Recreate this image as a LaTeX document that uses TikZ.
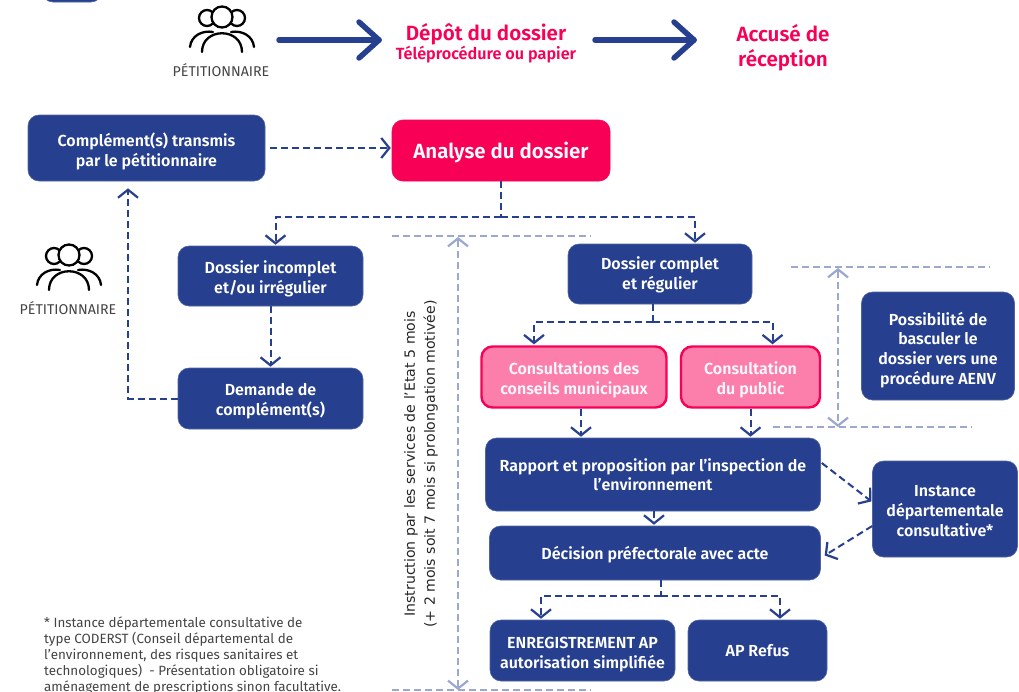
\documentclass[tikz,border=0pt]{standalone}
\usepackage{fontspec}
\setmainfont{Fira Sans}
\newfontfamily\semib{Fira Sans SemiBold}
\newfontfamily\rotfont{DejaVu Sans}
\usetikzlibrary{arrows.meta,calc}
\definecolor{navy}{HTML}{263F8E}
\definecolor{crimson}{HTML}{F70056}
\definecolor{rosefill}{HTML}{FC7FAB}
\definecolor{lav}{HTML}{9CA8CF}
\definecolor{greytxt}{HTML}{444444}
\newcommand{\lo}[1]{\rule{0pt}{#1pt}}
\tikzset{
  x=1pt,y=-1pt,
  box/.style={rectangle,rounded corners=11pt,fill=navy,draw=navy!80!white,line width=.6pt,text=white,align=center,inner sep=0pt,font=\semib\fontsize{16}{19.7}\selectfont},
  hot/.style={box,fill=crimson,draw=crimson,font=\semib\fontsize{20.5}{24}\selectfont},
  rose/.style={box,fill=rosefill,draw=crimson,line width=2.4pt,text=white!95!rosefill},
  reda/.style={text=crimson,align=center,inner sep=0pt,font=\semib\fontsize{20.6}{25}\selectfont},
  redb/.style={text=crimson,align=center,inner sep=0pt,font=\semib\fontsize{16.2}{18}\selectfont},
  who/.style={text=greytxt,inner sep=0pt,font=\fontsize{14.2}{16}\selectfont},
  conn/.style={draw=navy,line width=2pt,dash pattern=on 7pt off 4pt},
  tip/.style={conn,-{Straight Barb[length=8pt,width=20pt,line width=2.2pt]},shorten >=1pt},
  span/.style={draw=lav,line width=2pt,dash pattern=on 7pt off 4pt},
  spantip/.style={span,{Straight Barb[length=8pt,width=20pt,line width=2.2pt]}-{Straight Barb[length=8pt,width=20pt,line width=2.2pt]}},
  bigarrow/.style={draw=navy,line width=5.5pt,line cap=round,line join=round},
  icon/.style={draw=black,line width=2.3pt,line cap=round,fill=white}
}
\newcommand{\peopleicon}[2]{%
\begin{scope}[shift={(#1,#2)}]
  \draw[icon] (-15,1) circle (8);
  \draw[icon] (15,1) circle (8);
  \draw[icon] (0,0) circle (10.5);
  \draw[icon,fill=none] (-32,30) .. controls (-31,19) and (-20,13) .. (-9,15);
  \draw[icon,fill=none] (32,30) .. controls (31,19) and (20,13) .. (9,15);
  \draw[icon,fill=none] (-20,35) .. controls (-20,10) and (20,10) .. (20,35);
\end{scope}}
\begin{document}
\begin{tikzpicture}
\useasboundingbox (0,0) rectangle (1019,691);
\clip (0,0) rectangle (1019,691);
% icons
\peopleicon{222}{17}
\peopleicon{69}{255}
\node[who] (pet1) at (221,70) {PÉTITIONNAIRE};
\node[who] (pet2) at (68,308) {PÉTITIONNAIRE};
% top row
\node[box,minimum width=60pt,minimum height=40pt] (corner) at (72,-18) {};
\node[reda] (depot) at (486,34) {Dépôt du dossier};
\node[redb] (tele) at (486,55) {Téléprocédure ou papier};
\node[reda] (accuse) at (783,47.5) {Accusé de\\réception};
\coordinate (a1s) at (279,40);
\coordinate (a1e) at (379,40);
\coordinate (a2s) at (595,40);
\coordinate (a2e) at (694,40);
\draw[bigarrow] (a1s) -- (a1e);
\draw[bigarrow] ($(a1e)+(-20,-18)$) -- (a1e) -- ($(a1e)+(-20,18)$);
\draw[bigarrow] (a2s) -- (a2e);
\draw[bigarrow] ($(a2e)+(-20,-18)$) -- (a2e) -- ($(a2e)+(-20,18)$);
% boxes
\node[box,minimum width=237pt,minimum height=66pt] (compl) at (146.5,148) {\lo{20}Complément(s) transmis\\par le pétitionnaire};
\node[hot,minimum width=218pt,minimum height=61pt] (analyse) at (501,150.5) {\lo{20}Analyse du dossier};
\node[box,minimum width=185pt,minimum height=60pt] (incomplet) at (270.5,276) {\lo{19}Dossier incomplet\\et/ou irrégulier};
\node[box,minimum width=185pt,minimum height=61pt] (demande) at (270.5,398.5) {\lo{18}Demande de\\complément(s)};
\node[box,minimum width=184pt,minimum height=60pt] (complet) at (660,274) {\lo{15}Dossier complet\\et régulier};
\node[rose,minimum width=185pt,minimum height=61pt] (conseils) at (574,377) {\lo{18}Consultations des\\conseils municipaux};
\node[rose,minimum width=139pt,minimum height=61pt] (public) at (750.5,377) {\lo{18}Consultation\\du public};
\node[box,minimum width=153pt,minimum height=108pt] (aenv) at (938,346) {\lo{21}Possibilité de\\basculer le\\dossier vers une\\procédure AENV};
\node[box,minimum width=335pt,minimum height=73pt] (rapport) at (653,474.5) {\lo{13}Rapport et proposition par l’inspection de\\l’environnement};
\node[box,minimum width=331pt,minimum height=54pt] (decision) at (655,553) {\lo{17}Décision préfectorale avec acte};
\node[box,minimum width=145pt,minimum height=96pt] (instance) at (945,509) {\lo{15}Instance\\départementale\\consultative*};
\node[box,minimum width=185pt,minimum height=61pt] (enreg) at (582.5,650.5) {\lo{19}ENREGISTREMENT AP\\autorisation simplifiée};
\node[box,minimum width=139pt,minimum height=61pt] (refus) at (757.5,650.5) {AP Refus};
% connectors
\draw[tip] ([xshift=5pt]compl.east) -- (compl.east -| analyse.west);
\coordinate (j1) at (501,217);
\draw[conn] (analyse.south) -- (j1);
\draw[tip] (j1) -| ([xshift=5pt]incomplet.north);
\draw[tip] (j1) -| ([xshift=35pt]complet.north);
\draw[tip] (incomplet.south) -- (demande.north);
\coordinate (j2) at (128,398.5);
\draw[tip] (demande.west) -- (j2) -- ([yshift=-6pt]compl.south -| j2);
\coordinate (j3) at (652.5,322);
\draw[conn] (complet.south -| j3) -- (j3);
\draw[tip] (j3) -| ([xshift=-40pt]conseils.north);
\draw[tip] (j3) -| ([xshift=22pt]public.north);
\draw[tip] ([xshift=7pt]conseils.south) -- ([xshift=7pt]conseils.south |- rapport.north);
\draw[tip] (public.south) -- (public.south |- rapport.north);
\draw[tip] ([xshift=1pt]rapport.south) -- ([xshift=1pt]rapport.south |- decision.north);
\draw[tip] ([xshift=1pt,yshift=11.5pt]rapport.east) -- ([yshift=7pt]instance.west);
\draw[tip] ([yshift=-17pt]instance.west) -- ([xshift=3pt,yshift=-3pt]decision.east);
\coordinate (j4) at (661,596);
\draw[conn] (decision.south -| j4) -- (j4);
\draw[tip] (j4) -| ([xshift=-41.5pt]enreg.north);
\draw[tip] (j4) -| ([xshift=22.5pt]refus.north);
% lavender spans
\coordinate (s1a) at (392,236);
\coordinate (s1b) at (591,236);
\coordinate (s1c) at (392,690);
\coordinate (s1d) at (591,690);
\coordinate (s1t) at (458,237);
\coordinate (s1u) at (458,690);
\draw[span] (s1a) -- (s1b);
\draw[span] (s1c) -- (s1d);
\draw[spantip] (s1t) -- (s1u);
\coordinate (s2a) at (791,267);
\coordinate (s2b) at (990,267);
\coordinate (s2c) at (773,427);
\coordinate (s2d) at (972,427);
\coordinate (s2t) at (838,268);
\coordinate (s2u) at (838,427);
\draw[span] (s2a) -- (s2b);
\draw[span] (s2c) -- (s2d);
\draw[spantip] (s2t) -- (s2u);
% rotated label
\node[rotate=90,align=center,inner sep=0pt,text=black!85,font=\rotfont\fontsize{14.1}{20}\selectfont] (instr) at (421,464) {Instruction par les services de l’Etat 5 mois\\(+ 2 mois soit 7 mois si prolongation motivée)};
% footnote
\node[anchor=north west,inner sep=0pt,align=left,text=greytxt,font=\fontsize{13.4}{16}\selectfont] (note) at (44,617) {* Instance départementale consultative de\\type CODERST (Conseil départemental de\\l’environnement, des risques sanitaires et\\technologiques)\ \ - Présentation obligatoire si\\aménagement de prescriptions sinon facultative.};
\end{tikzpicture}
\end{document}
